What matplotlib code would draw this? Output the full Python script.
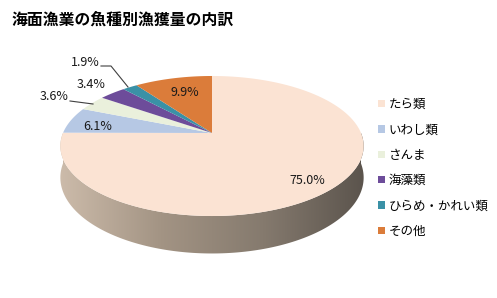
import numpy as np
import matplotlib
matplotlib.use('Agg')
import matplotlib.pyplot as plt
from matplotlib.transforms import Transform
from matplotlib.path import Path
from matplotlib.patches import Patch, Polygon
from matplotlib.colors import LinearSegmentedColormap

plt.rcParams['font.family'] = ['Noto Sans CJK JP', 'DejaVu Sans']

title = '海面漁業の魚種別漁獲量の内訳'
categories = ['たら類', 'いわし類', 'さんま', '海藻類', 'ひらめ・かれい類', 'その他']
values = [75.0, 6.1, 3.6, 3.4, 1.9, 9.9]
colors = ['#FBE3D3', '#B6C8E4', '#EAF0DC', '#6D4C9A', '#3A91A6', '#DB7C3A']

# layout (pixels)
W, H = 497, 298
CX, CY = 212, 133
A, B, K, DEPTH = 149.0, 67.6, 0.1857, 30.5


class Persp(Transform):
    input_dims = 2
    output_dims = 2
    is_separable = False
    has_inverse = False

    def __init__(self, drop=0.0):
        super().__init__()
        self.drop = drop

    def transform_non_affine(self, values):
        v = np.asarray(values, float).reshape(-1, 2)
        u, s = v[:, 0], v[:, 1]
        w = 1 + K * s
        x = CX + A * u / w
        y = CY - B * s / w + self.drop / w
        return np.column_stack([x, y])

    def transform_path_non_affine(self, path):
        pts = []
        for seg, code in path.iter_bezier():
            if code == Path.MOVETO:
                pts.append(seg.control_points[0])
            else:
                pts.extend(seg(np.linspace(0, 1, 30)[1:]))
        return Path(self.transform_non_affine(np.array(pts)), closed=True)


fig = plt.figure(figsize=(W / 100, H / 100), dpi=100)
ax = fig.add_axes([0, 0, 1, 1])

wedges, _ = ax.pie(values, colors=colors, startangle=90, counterclock=False,
                   radius=1, center=(0, 0), wedgeprops=dict(linewidth=0))
for wd in wedges:
    wd.set_transform(Persp() + ax.transData)
    wd.set_zorder(3)

# side wall of the cylinder
t = np.linspace(np.pi, 2 * np.pi, 300)
rim = np.column_stack([np.cos(t), np.sin(t)])
top = Persp(0).transform(rim)
bot = Persp(DEPTH).transform(rim)
side = Polygon(np.vstack([top, bot[::-1]]), closed=True, facecolor='none',
               edgecolor='none', transform=ax.transData)
ax.add_patch(side)
cmap = LinearSegmentedColormap.from_list('side', ['#CDBCAB', '#A39484', '#857A6E', '#5A534C'])
grad = np.linspace(0, 1, 256).reshape(1, -1)
im = ax.imshow(grad, extent=(top[:, 0].min() - 3, top[:, 0].max() + 3, bot[:, 1].max() + 2, CY - 5),
               cmap=cmap, aspect='auto', zorder=1, interpolation='bilinear')
im.set_clip_path(side)

# labels
label_pos = [(307, 181), (98, 126), (54, 97), (91, 84), (85, 62), (185, 93)]
for val, (lx, ly) in zip(values, label_pos):
    ax.text(lx, ly, f'{val:.1f}%', ha='center', va='center', fontsize=9,
            color='#1a1a1a', zorder=5)
ax.plot([70, 93], [101, 104], color='#404040', lw=0.8, zorder=4)
ax.plot([101, 111, 128], [66, 66, 87], color='#404040', lw=0.8, zorder=4)

# legend
handles = [Patch(facecolor=c, edgecolor='none') for c in colors]
ax.legend(handles, categories, loc='upper left',
          bbox_to_anchor=(378 / W, 1 - 98 / H), frameon=False,
          handlelength=0.55, handleheight=0.55, handletextpad=0.3,
          labelspacing=0.99, borderaxespad=0, borderpad=0,
          prop={'size': 9})

fig.text(11 / W, 1 - 20 / H, title, ha='left', va='center', fontsize=11.4,
         fontweight='bold')

ax.set_xlim(0, W)
ax.set_ylim(H, 0)
ax.set_aspect('auto')
ax.axis('off')
fig.savefig('out.png', dpi=100)
